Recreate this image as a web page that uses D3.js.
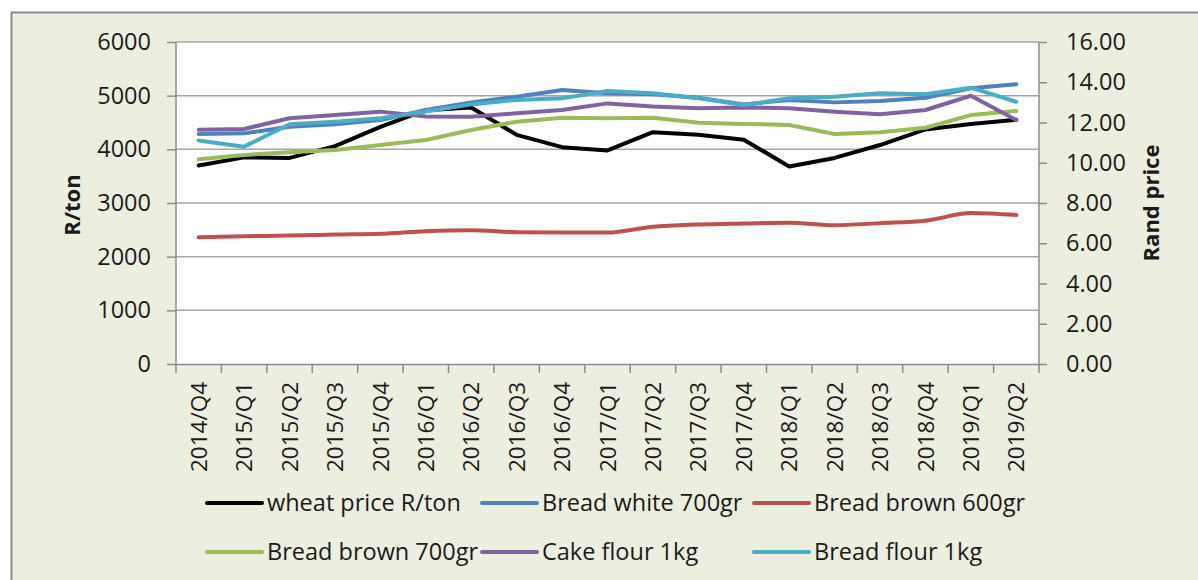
<!DOCTYPE html>
<html>
<head>
<meta charset="utf-8">
<script src="https://cdn.jsdelivr.net/npm/d3@7"></script>
<style>
  html, body { margin: 0; padding: 0; background: #fff; }
  #chart { width: 1198px; height: 580px; }
  text { font-family: "Open Sans", "DejaVu Sans", sans-serif; fill: #1a1a1a; }
</style>
</head>
<body>
<div id="chart"></div>
<script>
// quarters on the x axis
const quarters = [
  "2014/Q4",
  "2015/Q1", "2015/Q2", "2015/Q3", "2015/Q4",
  "2016/Q1", "2016/Q2", "2016/Q3", "2016/Q4",
  "2017/Q1", "2017/Q2", "2017/Q3", "2017/Q4",
  "2018/Q1", "2018/Q2", "2018/Q3", "2018/Q4",
  "2019/Q1", "2019/Q2"
];

// left axis (R/ton)
const wheatPrice = [3700, 3850, 3840, 4060, 4420, 4730, 4780, 4270, 4040, 3980,
  4320, 4270, 4180, 3680, 3840, 4080, 4370, 4470, 4550];

// right axis (Rand price)
const breadWhite700 = [11.43, 11.46, 11.79, 11.91, 12.12, 12.62, 13.0, 13.28, 13.61, 13.45,
  13.40, 13.23, 12.90, 13.12, 13.0, 13.07, 13.23, 13.70, 13.90];
const breadBrown600 = [6.30, 6.35, 6.38, 6.43, 6.47, 6.60, 6.65, 6.55, 6.53, 6.53,
  6.82, 6.93, 6.98, 7.02, 6.90, 7.00, 7.12, 7.50, 7.40];
const breadBrown700 = [10.17, 10.39, 10.52, 10.63, 10.88, 11.13, 11.63, 12.04, 12.24, 12.21,
  12.24, 11.99, 11.93, 11.88, 11.43, 11.51, 11.74, 12.37, 12.57];
const cakeFlour1kg = [11.64, 11.68, 12.21, 12.37, 12.54, 12.30, 12.29, 12.46, 12.62, 12.95,
  12.79, 12.71, 12.75, 12.71, 12.54, 12.41, 12.62, 13.33, 12.12];
const breadFlour1kg = [11.11, 10.80, 11.91, 12.04, 12.21, 12.55, 12.90, 13.12, 13.20, 13.57,
  13.45, 13.20, 12.87, 13.20, 13.28, 13.45, 13.40, 13.73, 13.03];

const leftTicks = [0, 1000, 2000, 3000, 4000, 5000, 6000];
const rightTicks = [0, 2, 4, 6, 8, 10, 12, 14, 16];

const series = [
  { name: "wheat price R/ton", values: wheatPrice, axis: "left", color: "#000000" },
  { name: "Bread white 700gr", values: breadWhite700, axis: "right", color: "#4F81BD" },
  { name: "Bread brown 600gr", values: breadBrown600, axis: "right", color: "#C0504D", smooth: true },
  { name: "Bread brown 700gr", values: breadBrown700, axis: "right", color: "#9BBB59" },
  { name: "Cake flour 1kg", values: cakeFlour1kg, axis: "right", color: "#8064A2" },
  { name: "Bread flour 1kg", values: breadFlour1kg, axis: "right", color: "#4BACC6" }
];

const width = 1198, height = 580;
const plot = { left: 176, right: 1039, top: 42, bottom: 364 };

const svg = d3.select("#chart").append("svg")
  .attr("width", width)
  .attr("height", height);

// chart area background + border
svg.append("rect")
  .attr("x", 11.5).attr("y", 12.5)
  .attr("width", width + 10).attr("height", height + 10)
  .attr("fill", "#ECEEDF")
  .attr("stroke", "#8C8C8C")
  .attr("stroke-width", 2);

svg.append("rect")
  .attr("x", plot.left).attr("y", plot.top)
  .attr("width", plot.right - plot.left).attr("height", plot.bottom - plot.top)
  .attr("fill", "#ffffff");

const x = d3.scaleBand().domain(quarters).range([plot.left, plot.right]);
const yL = d3.scaleLinear().domain([0, 6000]).range([plot.bottom, plot.top]);
const yR = d3.scaleLinear().domain([0, 16]).range([plot.bottom, plot.top]);

// gridlines
svg.append("g")
  .selectAll("line")
  .data(leftTicks.filter(d => d > 0))
  .join("line")
  .attr("x1", plot.left).attr("x2", plot.right)
  .attr("y1", d => yL(d)).attr("y2", d => yL(d))
  .attr("stroke", "#A6A6A6")
  .attr("stroke-width", 1.5);

// axes
const axisLeft = svg.append("g")
  .attr("transform", `translate(${plot.left},0)`)
  .call(d3.axisLeft(yL).tickValues(leftTicks).tickSize(9).tickPadding(16).tickFormat(d3.format("d")));

const axisRight = svg.append("g")
  .attr("transform", `translate(${plot.right},0)`)
  .call(d3.axisRight(yR).tickValues(rightTicks).tickSize(8).tickPadding(19).tickFormat(d3.format(".2f")));

const axisBottom = svg.append("g")
  .attr("transform", `translate(0,${plot.bottom})`)
  .call(d3.axisBottom(x).tickSize(0).tickPadding(0));

// band-edge ticks for the category axis
axisBottom.selectAll(".edge")
  .data(d3.range(quarters.length + 1))
  .join("line")
  .attr("class", "edge")
  .attr("x1", i => plot.left + i * x.step())
  .attr("x2", i => plot.left + i * x.step())
  .attr("y1", 0).attr("y2", 9)
  .attr("stroke", "#8C8C8C")
  .attr("stroke-width", 1.5);

[axisLeft, axisRight, axisBottom].forEach(a => {
  a.select(".domain").attr("stroke", "#8C8C8C").attr("stroke-width", 1.5);
  a.selectAll(".tick line").attr("stroke", "#8C8C8C").attr("stroke-width", 1.5);
  a.selectAll("text").style("font-size", "23.5px").attr("fill", "#1a1a1a");
});
axisLeft.select(".domain").attr("d", `M0,${plot.top}V${plot.bottom}`);
axisRight.select(".domain").attr("d", `M0,${plot.top}V${plot.bottom}`);
axisRight.selectAll("text").attr("text-anchor", "start");

axisBottom.selectAll(".tick text")
  .style("font-size", "22.5px")
  .attr("transform", "rotate(-90)")
  .attr("text-anchor", "end")
  .attr("x", -18)
  .attr("y", 0)
  .attr("dy", "0.36em");

// axis titles
svg.append("text")
  .attr("transform", "translate(72,205) rotate(-90)")
  .attr("text-anchor", "middle")
  .attr("dy", "0.35em")
  .style("font-size", "22px")
  .style("font-weight", "700")
  .text("R/ton");

svg.append("text")
  .attr("transform", "translate(1151,203) rotate(-90)")
  .attr("text-anchor", "middle")
  .attr("dy", "0.35em")
  .style("font-size", "22px")
  .style("font-weight", "700")
  .text("Rand price");

// lines
const cx = d => x(d) + x.bandwidth() / 2;
series.forEach(s => {
  const yScale = s.axis === "left" ? yL : yR;
  const line = d3.line()
    .x((d, i) => cx(quarters[i]))
    .y(d => yScale(d))
    .curve(s.smooth ? d3.curveMonotoneX : d3.curveLinear);
  svg.append("path")
    .datum(s.values)
    .attr("fill", "none")
    .attr("stroke", s.color)
    .attr("stroke-width", 4)
    .attr("stroke-linejoin", "round")
    .attr("stroke-linecap", "round")
    .attr("d", line);
});

// legend
const legendCols = [207, 482, 754];
const legendRows = [503, 552];
const legend = svg.append("g");
series.forEach((s, i) => {
  const lx = legendCols[i % 3], ly = legendRows[Math.floor(i / 3)];
  legend.append("line")
    .attr("x1", lx).attr("x2", lx + 55)
    .attr("y1", ly).attr("y2", ly)
    .attr("stroke", s.color)
    .attr("stroke-width", 4)
    .attr("stroke-linecap", "round");
  legend.append("text")
    .attr("x", lx + 60).attr("y", ly)
    .attr("dy", "0.35em")
    .style("font-size", "23.5px")
    .text(s.name);
});
</script>
</body>
</html>
